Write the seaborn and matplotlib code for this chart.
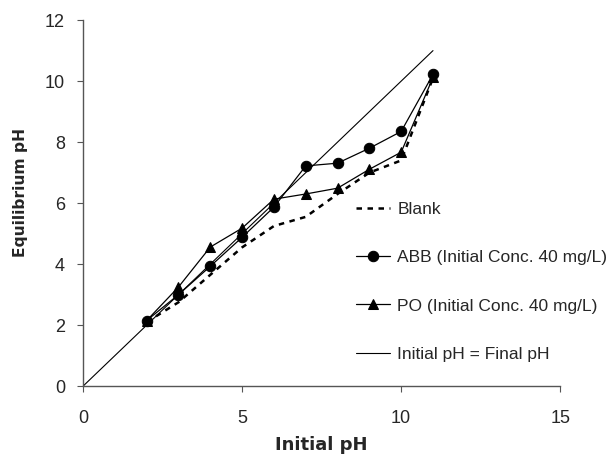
import matplotlib
matplotlib.use("Agg")
import matplotlib.pyplot as plt
import seaborn as sns
import pandas as pd

# Initial pH values used in the batch experiments
initial_ph = [2, 3, 4, 5, 6, 7, 8, 9, 10, 11]
# Equilibrium pH for each series
blank = [2.10, 2.75, 3.65, 4.55, 5.25, 5.55, 6.30, 7.00, 7.40, 10.10]
abb = [2.15, 3.00, 3.93, 4.88, 5.87, 7.22, 7.31, 7.80, 8.35, 10.22]
po = [2.15, 3.25, 4.56, 5.18, 6.13, 6.30, 6.49, 7.11, 7.67, 10.12]
# Reference line where the initial pH equals the final pH
ref_x = [0, 11]
ref_y = [0, 11]

labels = ["Blank", "ABB (Initial Conc. 40 mg/L)", "PO (Initial Conc. 40 mg/L)",
          "Initial pH = Final pH"]
x_ticks = [0, 5, 10, 15]
y_ticks = [0, 2, 4, 6, 8, 10, 12]

sns.set_style("white")
plt.rcParams["font.family"] = ["Liberation Sans", "DejaVu Sans"]

df_blank = pd.DataFrame({"x": initial_ph, "y": blank})
df_abb = pd.DataFrame({"x": initial_ph, "y": abb})
df_po = pd.DataFrame({"x": initial_ph, "y": po})
df_ref = pd.DataFrame({"x": ref_x, "y": ref_y})

fig = plt.figure(figsize=(6.15, 4.57), dpi=100)
ax = fig.add_axes([0.135, 0.155, 0.776, 0.801])

sns.lineplot(data=df_blank, x="x", y="y", ax=ax, color="black", lw=1.8,
             linestyle=(0, (2.2, 2.2)), label=labels[0])
sns.lineplot(data=df_abb, x="x", y="y", ax=ax, color="black", lw=0.9,
             marker="o", markersize=7.5, markeredgecolor="black", label=labels[1])
sns.lineplot(data=df_po, x="x", y="y", ax=ax, color="black", lw=0.9,
             marker="^", markersize=7.5, markeredgecolor="black", label=labels[2])
sns.lineplot(data=df_ref, x="x", y="y", ax=ax, color="black", lw=0.8,
             label=labels[3])

ax.set_xlim(0, 15)
ax.set_ylim(0, 12)
ax.set_xticks(x_ticks)
ax.set_yticks(y_ticks)
ax.tick_params(axis="both", labelsize=13, length=4, width=0.8, color="#555555",
               direction="out", left=True, bottom=True)
ax.tick_params(axis="x", pad=13)
ax.tick_params(axis="y", pad=9)
ax.set_xlabel("Initial pH", fontsize=13, fontweight="bold", labelpad=7,
              family=["DejaVu Sans"])
ax.set_ylabel("Equilibrium pH", fontsize=11.2, fontweight="bold",
              family=["DejaVu Sans"])
ax.yaxis.set_label_coords(-0.115, 0.53)

for side in ["top", "right"]:
    ax.spines[side].set_visible(False)
for side in ["left", "bottom"]:
    ax.spines[side].set_color("#555555")
    ax.spines[side].set_linewidth(1.0)

leg = ax.legend(loc="upper left", bbox_to_anchor=(0.553, 0.592),
                bbox_transform=fig.transFigure, frameon=False, fontsize=12.5,
                handlelength=2.0, handletextpad=0.4, labelspacing=1.9)

fig.savefig("out.png", dpi=100)
